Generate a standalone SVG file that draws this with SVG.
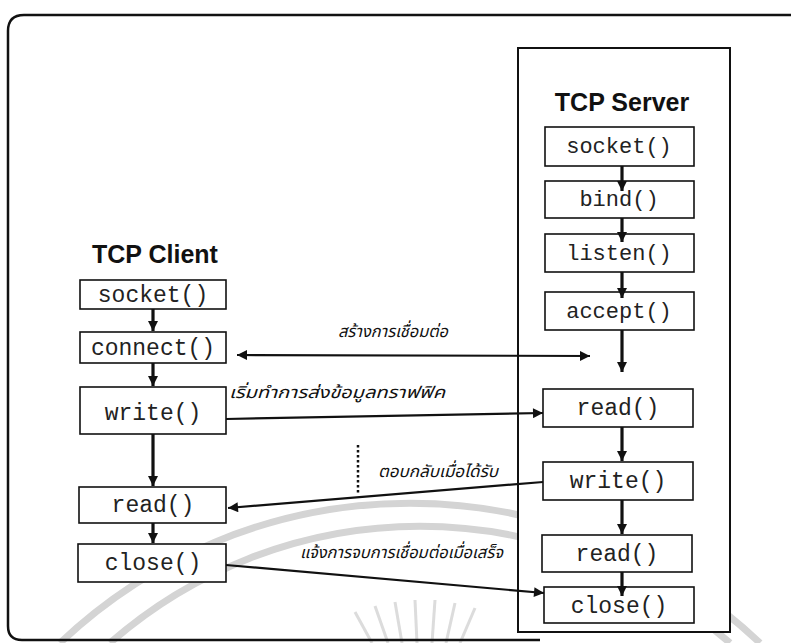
<svg xmlns="http://www.w3.org/2000/svg" width="791" height="643" viewBox="0 0 791 643">
<defs>
<marker id="ah" viewBox="0 0 10 10" refX="10" refY="5" markerWidth="11" markerHeight="10" markerUnits="userSpaceOnUse" orient="auto-start-reverse">
<path d="M0,0 L10,5 L0,10 z" fill="#111"/>
</marker>
<style>
.box{fill:#fff;stroke:#111;stroke-width:1.6}
.fn{font-family:"Liberation Mono","DejaVu Sans Mono",monospace;font-size:23px;fill:#222;text-anchor:middle}
.sfn{font-size:22px}
.title{font-family:"Liberation Sans",Arial,sans-serif;font-weight:bold;font-size:25px;fill:#111}
.th{font-family:"Noto Sans Thai","Noto Sans","DejaVu Sans",sans-serif;font-style:italic;font-size:16.5px;fill:#111}
.v{stroke:#111;stroke-width:3.2;fill:none}
.h{stroke:#111;stroke-width:2.2;fill:none}
.wm{fill:none;stroke:#d4d4d4;stroke-width:7}
</style>
</defs>
<rect width="791" height="643" fill="#fff"/>
<g id="watermark">
<path class="wm" d="M 60 643 A 508 508 0 0 1 760 643"/>
<path class="wm" d="M 110 643 A 470 470 0 0 1 730 643"/>
<g stroke="#dcdcdc" stroke-width="3">
<line x1="355" y1="612" x2="372" y2="643"/>
<line x1="375" y1="606" x2="388" y2="643"/>
<line x1="395" y1="602" x2="402" y2="643"/>
<line x1="415" y1="600" x2="417" y2="643"/>
<line x1="435" y1="600" x2="432" y2="643"/>
<line x1="455" y1="603" x2="446" y2="643"/>
<line x1="475" y1="608" x2="460" y2="643"/>
</g>
</g>
<g id="frame">
<path d="M 791 15 L 24 15 Q 8 15 8 31 L 8 626 Q 8 640 22 640 L 540 640" fill="none" stroke="#111" stroke-width="2.5"/>
</g>
<g id="server">
<rect x="518" y="48" width="212" height="584" fill="#fff" stroke="#111" stroke-width="2"/>
<text class="title" x="622" y="111" text-anchor="middle" font-size="26">TCP Server</text>
</g>
<g id="client-title"><text class="title" x="92" y="263">TCP Client</text></g>
<g id="labels">
<text class="th" x="338" y="337" textLength="110" lengthAdjust="spacingAndGlyphs">สร้างการเชื่อมต่อ</text>
<text class="th" x="229" y="398" textLength="216" lengthAdjust="spacingAndGlyphs">เริ่มทำการส่งข้อมูลทราฟฟิค</text>
<text class="th" x="378" y="477" textLength="120" lengthAdjust="spacingAndGlyphs">ตอบกลับเมื่อได้รับ</text>
<text class="th" x="300" y="558" textLength="203" lengthAdjust="spacingAndGlyphs">แจ้งการจบการเชื่อมต่อเมื่อเสร็จ</text>
</g>
<g id="c-socket"><rect class="box" x="80" y="280" width="146" height="29"/><text class="fn" x="153" y="302">socket()</text></g>
<g id="c-connect"><rect class="box" x="80" y="332" width="146" height="31"/><text class="fn" x="153" y="355">connect()</text></g>
<g id="c-write"><rect class="box" x="80" y="387" width="146" height="47"/><text class="fn" x="153" y="420">write()</text></g>
<g id="c-read"><rect class="box" x="79" y="487" width="147" height="36"/><text class="fn" x="153" y="512">read()</text></g>
<g id="c-close"><rect class="box" x="78" y="544" width="148" height="38"/><text class="fn" x="153" y="570">close()</text></g>
<g id="s-socket"><rect class="box" x="545" y="127" width="149" height="39"/><text class="fn sfn" x="619" y="153">socket()</text></g>
<g id="s-bind"><rect class="box" x="545" y="181" width="149" height="37"/><text class="fn sfn" x="619" y="206">bind()</text></g>
<g id="s-listen"><rect class="box" x="545" y="234" width="149" height="38"/><text class="fn sfn" x="619" y="260">listen()</text></g>
<g id="s-accept"><rect class="box" x="545" y="292" width="149" height="38"/><text class="fn sfn" x="619" y="318">accept()</text></g>
<g id="s-read1"><rect class="box" x="543" y="389" width="150" height="38"/><text class="fn" x="618" y="415">read()</text></g>
<g id="s-write"><rect class="box" x="543" y="462" width="150" height="38"/><text class="fn" x="618" y="488">write()</text></g>
<g id="s-read2"><rect class="box" x="542" y="535" width="150" height="37"/><text class="fn" x="617" y="561">read()</text></g>
<g id="s-close"><rect class="box" x="544" y="587" width="150" height="36"/><text class="fn" x="619" y="613">close()</text></g>
<g id="connectors">
<line class="v" x1="153" y1="309" x2="153" y2="331" marker-end="url(#ah)"/>
<line class="v" x1="153" y1="363" x2="153" y2="386" marker-end="url(#ah)"/>
<line class="v" x1="153" y1="434" x2="153" y2="486" marker-end="url(#ah)"/>
<line class="v" x1="153" y1="523" x2="153" y2="543" marker-end="url(#ah)"/>
<line class="v" x1="622" y1="166" x2="622" y2="191" marker-end="url(#ah)"/>
<line class="v" x1="622" y1="218" x2="622" y2="242" marker-end="url(#ah)"/>
<line class="v" x1="622" y1="272" x2="622" y2="298" marker-end="url(#ah)"/>
<line class="v" x1="622" y1="330" x2="622" y2="372" marker-end="url(#ah)"/>
<line class="v" x1="622" y1="427" x2="622" y2="461" marker-end="url(#ah)"/>
<line class="v" x1="622" y1="500" x2="622" y2="534" marker-end="url(#ah)"/>
<line class="v" x1="622" y1="572" x2="622" y2="596" marker-end="url(#ah)"/>
<line class="h" x1="237" y1="355" x2="590" y2="356" marker-start="url(#ah)" marker-end="url(#ah)"/>
<line class="h" x1="226" y1="419" x2="543" y2="413" marker-end="url(#ah)"/>
<line class="h" x1="543" y1="482" x2="228" y2="508" marker-end="url(#ah)"/>
<line class="h" x1="226" y1="565" x2="544" y2="593" marker-end="url(#ah)"/>
<line x1="358" y1="445" x2="358" y2="493" stroke="#111" stroke-width="2.5" stroke-dasharray="2.5,2.5"/>
</g>
</svg>
